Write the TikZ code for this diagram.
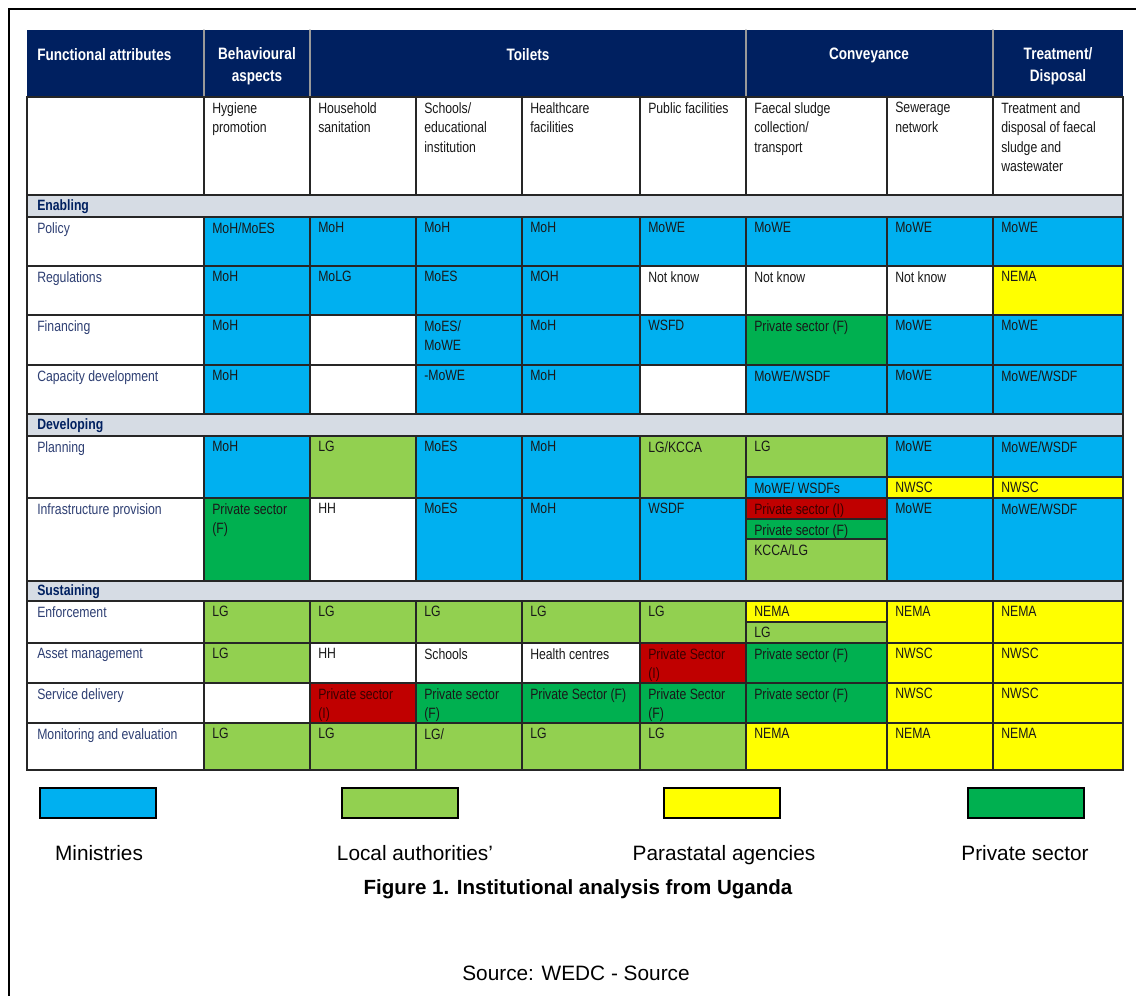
\documentclass[tikz,border=0pt]{standalone}
\usepackage{fontspec}
\setmainfont{Liberation Sans}
\newfontfamily\narrowfont[FakeStretch=0.82]{Liberation Sans}
\usepackage{tikz}
\usetikzlibrary{positioning}

\definecolor{hdrblue}{HTML}{002060}
\definecolor{minblue}{HTML}{00B0F0}
\definecolor{lagreen}{HTML}{92D050}
\definecolor{payellow}{HTML}{FFFF00}
\definecolor{psgreen}{HTML}{00B050}
\definecolor{psred}{HTML}{C00000}
\definecolor{bandgray}{HTML}{D6DCE4}
\definecolor{rowtext}{HTML}{2E3F73}

\tikzset{
  gridline/.style={draw=black!85, line width=1pt},
  celltext/.style={anchor=north west, inner sep=0pt, align=left, text=black!90,
    font=\narrowfont\fontsize{11.2}{14.6}\selectfont},
  redtext/.style={text=black!70!psred},
  rowlabel/.style={celltext, text=rowtext},
  secttext/.style={celltext, text=hdrblue,
    font=\narrowfont\bfseries\fontsize{11.2}{14.6}\selectfont},
  headtext/.style={inner sep=0pt, align=center, text=white,
    font=\narrowfont\bfseries\fontsize{12.4}{16.5}\selectfont},
  legbox/.style={draw=black, line width=1.5pt, minimum width=87pt, minimum height=22.5pt, inner sep=0pt},
  legtext/.style={inner sep=0pt, anchor=base, font=\fontsize{15.6}{18}\selectfont}
}

% one coloured cell: [text options], name, x1, y1, x2, y2, fill, text
\newcommand{\cellbox}[8][]{%
  \filldraw[fill=#7, gridline] (#3,#4) rectangle (#5,#6);
  \node[celltext,#1] (#2) at (#3+8,#4+5) {#8};}

\begin{document}
\begin{tikzpicture}[x=0.75pt, y=-0.75pt, line cap=round]

\useasboundingbox (0,0) rectangle (1136,996);

% page frame
\draw [line width=1.5pt] (8.5,996) -- (8.5,9) -- (1136,9);

% header
\fill [hdrblue] (27,30) rectangle (1123,97);
\draw [black!40, line width=1pt] (204,30) -- (204,97);
\draw [black!40, line width=1pt] (310,30) -- (310,97);
\draw [black!40, line width=1pt] (746,30) -- (746,97);
\draw [black!40, line width=1pt] (993,30) -- (993,97);

\node [headtext, anchor=west] (hfunc) at (37,55) {Functional attributes};
\node [headtext] (hbeh) at (257,66) {Behavioural\\aspects};
\node [headtext] (htoil) at (528,55) {Toilets};
\node [headtext] (hconv) at (869,55) {Conveyance};
\node [headtext] (htreat) at (1058,66) {Treatment/\\Disposal};

% sub header
\cellbox{s0}{27}{97}{204}{195}{white}{}
\cellbox{s1}{204}{97}{310}{195}{white}{Hygiene\\promotion}
\cellbox{s2}{310}{97}{416}{195}{white}{Household\\sanitation}
\cellbox{s3}{416}{97}{522}{195}{white}{Schools/\\educational\\institution}
\cellbox{s4}{522}{97}{640}{195}{white}{Healthcare\\facilities}
\cellbox{s5}{640}{97}{746}{195}{white}{Public facilities}
\cellbox{s6}{746}{97}{887}{195}{white}{Faecal sludge\\collection/\\transport}
\cellbox{s7}{887}{97}{993}{195}{white}{Sewerage\\network}
\cellbox{s8}{993}{97}{1123}{195}{white}{Treatment and\\disposal of faecal\\sludge and\\wastewater}

% Enabling
\filldraw [fill=bandgray, gridline] (27,195) rectangle (1123,217);
\node [secttext] (enab) at (37,199) {Enabling};

\filldraw [fill=white, gridline] (27,217) rectangle (204,266);
\node [rowlabel] (policy) at (37,222) {Policy};
\cellbox{pol1}{204}{217}{310}{266}{minblue}{MoH/MoES}
\cellbox{pol2}{310}{217}{416}{266}{minblue}{MoH}
\cellbox{pol3}{416}{217}{522}{266}{minblue}{MoH}
\cellbox{pol4}{522}{217}{640}{266}{minblue}{MoH}
\cellbox{pol5}{640}{217}{746}{266}{minblue}{MoWE}
\cellbox{pol6}{746}{217}{887}{266}{minblue}{MoWE}
\cellbox{pol7}{887}{217}{993}{266}{minblue}{MoWE}
\cellbox{pol8}{993}{217}{1123}{266}{minblue}{MoWE}

\filldraw [fill=white, gridline] (27,266) rectangle (204,315);
\node [rowlabel] (regul) at (37,271) {Regulations};
\cellbox{reg1}{204}{266}{310}{315}{minblue}{MoH}
\cellbox{reg2}{310}{266}{416}{315}{minblue}{MoLG}
\cellbox{reg3}{416}{266}{522}{315}{minblue}{MoES}
\cellbox{reg4}{522}{266}{640}{315}{minblue}{MOH}
\cellbox{reg5}{640}{266}{746}{315}{white}{Not know}
\cellbox{reg6}{746}{266}{887}{315}{white}{Not know}
\cellbox{reg7}{887}{266}{993}{315}{white}{Not know}
\cellbox{reg8}{993}{266}{1123}{315}{payellow}{NEMA}

\filldraw [fill=white, gridline] (27,315) rectangle (204,365);
\node [rowlabel] (financ) at (37,320) {Financing};
\cellbox{fin1}{204}{315}{310}{365}{minblue}{MoH}
\cellbox{fin2}{310}{315}{416}{365}{white}{}
\cellbox{fin3}{416}{315}{522}{365}{minblue}{MoES/\\MoWE}
\cellbox{fin4}{522}{315}{640}{365}{minblue}{MoH}
\cellbox{fin5}{640}{315}{746}{365}{minblue}{WSFD}
\cellbox{fin6}{746}{315}{887}{365}{psgreen}{Private sector (F)}
\cellbox{fin7}{887}{315}{993}{365}{minblue}{MoWE}
\cellbox{fin8}{993}{315}{1123}{365}{minblue}{MoWE}

\filldraw [fill=white, gridline] (27,365) rectangle (204,414);
\node [rowlabel] (capdev) at (37,370) {Capacity development};
\cellbox{cap1}{204}{365}{310}{414}{minblue}{MoH}
\cellbox{cap2}{310}{365}{416}{414}{white}{}
\cellbox{cap3}{416}{365}{522}{414}{minblue}{-MoWE}
\cellbox{cap4}{522}{365}{640}{414}{minblue}{MoH}
\cellbox{cap5}{640}{365}{746}{414}{white}{}
\cellbox{cap6}{746}{365}{887}{414}{minblue}{MoWE/WSDF}
\cellbox{cap7}{887}{365}{993}{414}{minblue}{MoWE}
\cellbox{cap8}{993}{365}{1123}{414}{minblue}{MoWE/WSDF}

% Developing
\filldraw [fill=bandgray, gridline] (27,414) rectangle (1123,436);
\node [secttext] (devel) at (37,418) {Developing};

\filldraw [fill=white, gridline] (27,436) rectangle (204,498);
\node [rowlabel] (plann) at (37,441) {Planning};
\cellbox{pla1}{204}{436}{310}{498}{minblue}{MoH}
\cellbox{pla2}{310}{436}{416}{498}{lagreen}{LG}
\cellbox{pla3}{416}{436}{522}{498}{minblue}{MoES}
\cellbox{pla4}{522}{436}{640}{498}{minblue}{MoH}
\cellbox{pla5}{640}{436}{746}{498}{lagreen}{LG/KCCA}
\cellbox{pla6a}{746}{436}{887}{477}{lagreen}{LG}
\cellbox{pla6b}{746}{477}{887}{498}{minblue}{MoWE/ WSDFs}
\cellbox{pla7a}{887}{436}{993}{477}{minblue}{MoWE}
\cellbox{pla7b}{887}{477}{993}{498}{payellow}{NWSC}
\cellbox{pla8a}{993}{436}{1123}{477}{minblue}{MoWE/WSDF}
\cellbox{pla8b}{993}{477}{1123}{498}{payellow}{NWSC}

\filldraw [fill=white, gridline] (27,498) rectangle (204,581);
\node [rowlabel] (infra) at (37,503) {Infrastructure provision};
\cellbox{inf1}{204}{498}{310}{581}{psgreen}{Private sector\\(F)}
\cellbox{inf2}{310}{498}{416}{581}{white}{HH}
\cellbox{inf3}{416}{498}{522}{581}{minblue}{MoES}
\cellbox{inf4}{522}{498}{640}{581}{minblue}{MoH}
\cellbox{inf5}{640}{498}{746}{581}{minblue}{WSDF}
\cellbox[redtext]{inf6a}{746}{498}{887}{519}{psred}{Private sector (I)}
\cellbox{inf6b}{746}{519}{887}{539}{psgreen}{Private sector (F)}
\cellbox{inf6c}{746}{539}{887}{581}{lagreen}{KCCA/LG}
\cellbox{inf7}{887}{498}{993}{581}{minblue}{MoWE}
\cellbox{inf8}{993}{498}{1123}{581}{minblue}{MoWE/WSDF}

% Sustaining
\filldraw [fill=bandgray, gridline] (27,581) rectangle (1123,601);
\node [secttext] (sust) at (37,584) {Sustaining};

\filldraw [fill=white, gridline] (27,601) rectangle (204,643);
\node [rowlabel] (enforc) at (37,606) {Enforcement};
\cellbox{enf1}{204}{601}{310}{643}{lagreen}{LG}
\cellbox{enf2}{310}{601}{416}{643}{lagreen}{LG}
\cellbox{enf3}{416}{601}{522}{643}{lagreen}{LG}
\cellbox{enf4}{522}{601}{640}{643}{lagreen}{LG}
\cellbox{enf5}{640}{601}{746}{643}{lagreen}{LG}
\cellbox{enf6a}{746}{601}{887}{622}{payellow}{NEMA}
\cellbox{enf6b}{746}{622}{887}{643}{lagreen}{LG}
\cellbox{enf7}{887}{601}{993}{643}{payellow}{NEMA}
\cellbox{enf8}{993}{601}{1123}{643}{payellow}{NEMA}

\filldraw [fill=white, gridline] (27,643) rectangle (204,683);
\node [rowlabel] (asset) at (37,648) {Asset management};
\cellbox{ass1}{204}{643}{310}{683}{lagreen}{LG}
\cellbox{ass2}{310}{643}{416}{683}{white}{HH}
\cellbox{ass3}{416}{643}{522}{683}{white}{Schools}
\cellbox{ass4}{522}{643}{640}{683}{white}{Health centres}
\cellbox[redtext]{ass5}{640}{643}{746}{683}{psred}{Private Sector\\(I)}
\cellbox{ass6}{746}{643}{887}{683}{psgreen}{Private sector (F)}
\cellbox{ass7}{887}{643}{993}{683}{payellow}{NWSC}
\cellbox{ass8}{993}{643}{1123}{683}{payellow}{NWSC}

\filldraw [fill=white, gridline] (27,683) rectangle (204,723);
\node [rowlabel] (servdel) at (37,688) {Service delivery};
\cellbox{ser1}{204}{683}{310}{723}{white}{}
\cellbox[redtext]{ser2}{310}{683}{416}{723}{psred}{Private sector\\(I)}
\cellbox{ser3}{416}{683}{522}{723}{psgreen}{Private sector\\(F)}
\cellbox{ser4}{522}{683}{640}{723}{psgreen}{Private Sector (F)}
\cellbox{ser5}{640}{683}{746}{723}{psgreen}{Private Sector\\(F)}
\cellbox{ser6}{746}{683}{887}{723}{psgreen}{Private sector (F)}
\cellbox{ser7}{887}{683}{993}{723}{payellow}{NWSC}
\cellbox{ser8}{993}{683}{1123}{723}{payellow}{NWSC}

\filldraw [fill=white, gridline] (27,723) rectangle (204,770);
\node [rowlabel] (monit) at (37,728) {Monitoring and evaluation};
\cellbox{mon1}{204}{723}{310}{770}{lagreen}{LG}
\cellbox{mon2}{310}{723}{416}{770}{lagreen}{LG}
\cellbox{mon3}{416}{723}{522}{770}{lagreen}{LG/}
\cellbox{mon4}{522}{723}{640}{770}{lagreen}{LG}
\cellbox{mon5}{640}{723}{746}{770}{lagreen}{LG}
\cellbox{mon6}{746}{723}{887}{770}{payellow}{NEMA}
\cellbox{mon7}{887}{723}{993}{770}{payellow}{NEMA}
\cellbox{mon8}{993}{723}{1123}{770}{payellow}{NEMA}

% legend
\node [legbox, fill=minblue] (legmin) at (98,803) {};
\node [legbox, fill=lagreen] (legla) at (400,803) {};
\node [legbox, fill=payellow] (legpa) at (722,803) {};
\node [legbox, fill=psgreen] (legps) at (1026,803) {};

\node [legtext] (lblmin) at (99,860) {Ministries};
\node [legtext] (lblla) at (415,860) {Local authorities’};
\node [legtext] (lblpa) at (724,860) {Parastatal agencies};
\node [legtext] (lblps) at (1025,860) {Private sector};

% caption
\node [legtext, font=\bfseries\fontsize{15.4}{18}\selectfont] (caption) at (578,894) {Figure 1. Institutional analysis from Uganda};
\node [legtext] (source) at (576,980) {Source: WEDC - Source};

\end{tikzpicture}
\end{document}
